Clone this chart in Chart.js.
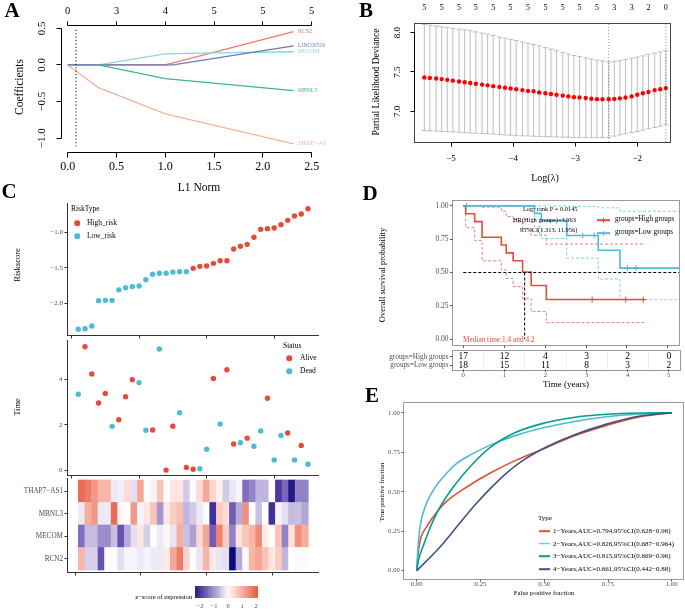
<!DOCTYPE html>
<html>
<head>
<meta charset="utf-8">
<script src="https://cdn.jsdelivr.net/npm/chart.js@4.4.1/dist/chart.umd.min.js"></script>
<style>
html, body { margin: 0; padding: 0; background: #fff; }
#fig { position: relative; width: 685px; height: 609px; overflow: hidden; font-family: 'Liberation Serif', 'Times New Roman', serif; color: #000; }
canvas { position: absolute; }
.t { position: absolute; white-space: nowrap; line-height: 1; }
.c { transform: translate(-50%, -50%); }
.l { transform: translateY(-50%); }
.r { transform: translate(-100%, -50%); }
.v { transform: translate(-50%, -50%) rotate(-90deg); }
.p { font-weight: bold; font-size: 21px; }
.dot { position: absolute; width: 5.5px; height: 5.5px; border-radius: 50%; transform: translate(-50%, -50%); }
.key { position: absolute; height: 1.6px; transform: translateY(-50%); }
</style>
</head>
<body>
<div id="fig">
  <canvas id="cA" width="326" height="178" style="left:0;top:0"></canvas>
  <canvas id="cB" width="345" height="172" style="left:340px;top:0"></canvas>
  <canvas id="cRisk" width="340" height="145" style="left:0;top:195px"></canvas>
  <canvas id="cTime" width="340" height="145" style="left:0;top:336px"></canvas>
  <canvas id="cHeat" width="340" height="104" style="left:0;top:476px"></canvas>
  <canvas id="cKM" width="345" height="155" style="left:340px;top:195px"></canvas>
  <canvas id="cTable" width="345" height="47" style="left:340px;top:348px"></canvas>
  <canvas id="cROC" width="345" height="200" style="left:340px;top:395px"></canvas>

  <div class="t c p" style="left:12px;top:10px">A</div>
  <div class="t c p" style="left:366px;top:10px">B</div>
  <div class="t c p" style="left:9px;top:191px">C</div>
  <div class="t c p" style="left:370px;top:193px">D</div>
  <div class="t c p" style="left:372px;top:395px">E</div>

  <div class="t v" style="left:20px;top:87px;font-size:11.5px">Coefficients</div>
  <div class="t c" style="left:199px;top:188px;font-size:11.5px">L1 Norm</div>
  <div class="t v" style="left:377px;top:82px;font-size:9.5px">Partial Likelihood Deviance</div>
  <div class="t c" style="left:545px;top:178px;font-size:10px">Log(λ)</div>

  <div class="t v" style="left:17px;top:265px;font-size:8.5px">Riskscore</div>
  <div class="t v" style="left:17px;top:407px;font-size:8.5px">Time</div>
  <div class="t l" style="left:71px;top:209px;font-size:7.5px">RiskType</div>
  <div class="dot" style="left:77px;top:223px;background:#e64b35"></div>
  <div class="t l" style="left:87px;top:223px;font-size:7.5px">High_risk</div>
  <div class="dot" style="left:77px;top:236px;background:#4dbbd5"></div>
  <div class="t l" style="left:87px;top:236px;font-size:7.5px">Low_risk</div>
  <div class="t l" style="left:283px;top:346px;font-size:7.5px">Status</div>
  <div class="dot" style="left:289px;top:358px;background:#e64b35"></div>
  <div class="t l" style="left:300px;top:358px;font-size:7.5px">Alive</div>
  <div class="dot" style="left:289px;top:371px;background:#4dbbd5"></div>
  <div class="t l" style="left:300px;top:371px;font-size:7.5px">Dead</div>

  <div id="zbar" style="position:absolute;left:195px;top:586px;width:63px;height:12px"></div>
  <div class="t r" style="left:192px;top:597px;font-size:6.5px">z−score of expression</div>
  <div id="zticks"></div>

  <div class="t v" style="left:382px;top:275px;font-size:8.5px">Overall survival probability</div>
  <div class="t l" style="left:523px;top:209px;font-size:6.4px">Log−rank P = 0.0145</div>
  <div class="t l" style="left:513px;top:220px;font-size:6.4px">HR(High groups)=3.963</div>
  <div class="t l" style="left:520px;top:229.5px;font-size:6.4px">95%CI(1.313, 11.956)</div>
  <div class="t l" style="left:463px;top:340px;font-size:7.3px;color:#e64b35">Median time:1.4 and 4.2</div>
  <div class="key" style="left:597px;top:220px;width:13px;background:#e64b35"></div>
  <div style="position:absolute;left:603px;top:217.5px;width:1px;height:5px;background:#e64b35"></div>
  <div class="t l" style="left:615px;top:220px;font-size:7.2px">groups=High groups</div>
  <div class="key" style="left:597px;top:233px;width:13px;background:#4dbbd5"></div>
  <div style="position:absolute;left:603px;top:230.5px;width:1px;height:5px;background:#4dbbd5"></div>
  <div class="t l" style="left:615px;top:233px;font-size:7.2px">groups=Low groups</div>
  <div class="t c" style="left:566px;top:384px;font-size:9px">Time (years)</div>

  <div class="t v" style="left:382px;top:492px;font-size:6.8px">True positive fraction</div>
  <div class="t c" style="left:544px;top:593px;font-size:6.8px">False positive fraction</div>
  <div class="t l" style="left:538px;top:518px;font-size:7px">Type</div>
  <div class="key" style="left:539px;top:531px;width:11px;background:#e64b35"></div>
  <div class="t l" style="left:553px;top:531px;font-size:7px">1−Years,AUC=0.794,95%CI(0.628−0.96)</div>
  <div class="key" style="left:539px;top:543.5px;width:11px;background:#4dbbd5"></div>
  <div class="t l" style="left:553px;top:543.5px;font-size:7px">2−Years,AUC=0.826,95%CI(0.687−0.964)</div>
  <div class="key" style="left:539px;top:556px;width:11px;background:#00a087"></div>
  <div class="t l" style="left:553px;top:556px;font-size:7px">3−Years,AUC=0.815,95%CI(0.669−0.96)</div>
  <div class="key" style="left:539px;top:569px;width:11px;background:#3c5488"></div>
  <div class="t l" style="left:553px;top:569px;font-size:7px">4−Years,AUC=0.661,95%CI(0.442−0.88)</div>
</div>

<script>
// ---------- A: lasso coefficient paths (L1 norm vs coefficient)
const aNormRCN2 = [0, 1.0, 2.315];
const aCoefRCN2 = [0, 0, 0.455];
const aNormLINC = [0, 1.08, 2.315];
const aCoefLINC = [0, 0, 0.259];
const aNormMECOM = [0, 0.315, 1.0, 1.5, 2.315];
const aCoefMECOM = [0, 0, 0.15, 0.165, 0.18];
const aNormMBNL3 = [0, 0.315, 1.0, 2.315];
const aCoefMBNL3 = [0, 0, -0.186, -0.35];
const aNormTHAP7 = [0, 0.315, 1.0, 2.315];
const aCoefTHAP7 = [0, -0.309, -0.668, -1.077];
const aTopTicks = [0, 0.5, 1, 1.5, 2, 2.5];
const aTopLabels = ['0', '3', '4', '5', '5', '5'];
const aLambdaNorm = 0.085;

// ---------- B: cross-validation deviance
const bLogLambda = [-5.43, -5.34, -5.24, -5.15, -5.06, -4.97, -4.87, -4.78, -4.69, -4.60,
  -4.50, -4.41, -4.32, -4.22, -4.13, -4.04, -3.95, -3.85, -3.76, -3.67,
  -3.58, -3.48, -3.39, -3.30, -3.20, -3.11, -3.02, -2.93, -2.83, -2.74,
  -2.65, -2.56, -2.46, -2.37, -2.28, -2.19, -2.09, -2.00, -1.91, -1.82,
  -1.72, -1.63, -1.54];
const bMean = [7.43, 7.425, 7.417, 7.41, 7.40, 7.39, 7.38, 7.37, 7.36, 7.35,
  7.34, 7.33, 7.32, 7.31, 7.30, 7.29, 7.28, 7.27, 7.26, 7.255,
  7.24, 7.23, 7.22, 7.21, 7.20, 7.19, 7.18, 7.175, 7.17, 7.16,
  7.155, 7.153, 7.153, 7.158, 7.165, 7.175, 7.19, 7.21, 7.23, 7.245,
  7.27, 7.28, 7.295];
const bUpper = [8.105, 8.095, 8.085, 8.075, 8.065, 8.055, 8.045, 8.035, 8.025, 8.01,
  7.995, 7.98, 7.965, 7.945, 7.93, 7.915, 7.90, 7.88, 7.865, 7.85,
  7.83, 7.81, 7.79, 7.77, 7.75, 7.73, 7.71, 7.695, 7.68, 7.665,
  7.65, 7.64, 7.63, 7.635, 7.645, 7.66, 7.675, 7.69, 7.705, 7.725,
  7.74, 7.755, 7.77];
const bLower = [6.755, 6.752, 6.749, 6.746, 6.742, 6.738, 6.734, 6.73, 6.726, 6.722,
  6.718, 6.714, 6.71, 6.705, 6.70, 6.697, 6.694, 6.69, 6.687, 6.684,
  6.681, 6.678, 6.676, 6.674, 6.672, 6.67, 6.668, 6.667, 6.666, 6.666,
  6.666, 6.667, 6.668, 6.685, 6.70, 6.715, 6.73, 6.745, 6.76, 6.78,
  6.795, 6.81, 6.83];
const bTopLabels = ['5', '5', '5', '5', '5', '5', '5', '5', '5', '5', '5', '3', '3', '2', '0'];
const bLambdaMin = -2.46;
const bLambda1se = -1.54;

// ---------- C: risk score, survival time and expression heatmap (patients sorted by risk)
const cRiskLow = [-2.366, -2.357, -2.32, -1.962, -1.958, -1.958, -1.81, -1.78, -1.765, -1.756,
  -1.667, -1.59, -1.577, -1.577, -1.56, -1.554, -1.554];
const cRiskHigh = [-1.507, -1.479, -1.474, -1.437, -1.40, -1.40, -1.235, -1.197, -1.169, -1.07,
  -0.958, -0.948, -0.939, -0.892, -0.831, -0.77, -0.742, -0.667];
const cTime = [3.35, 5.44, 4.24, 2.96, 3.38, 1.93, 2.22, 3.24, 3.99, 3.86,
  1.76, 1.77, 5.34, 0.0, 1.94, 2.53, 0.12, 0.04, 0.06, 0.92,
  4.04, 2.03, 4.43, 1.15, 1.21, 1.41, 1.05, 1.73, 3.17, 0.45,
  1.53, 1.64, 0.45, 1.09, 0.26];
const cStatus = ['Dead', 'Alive', 'Alive', 'Alive', 'Alive', 'Dead', 'Alive', 'Alive', 'Alive', 'Dead',
  'Dead', 'Alive', 'Dead', 'Alive', 'Alive', 'Dead', 'Alive', 'Alive', 'Dead', 'Dead',
  'Alive', 'Dead', 'Alive', 'Alive', 'Dead', 'Alive', 'Dead', 'Dead', 'Alive', 'Dead',
  'Dead', 'Alive', 'Dead', 'Alive', 'Dead'];
const heatGenes = ['THAP7−AS1', 'MBNL3', 'MECOM', 'RCN2'];
const zTHAP7 = [1.9, 1.7, 1.3, 0.9, 0.9, -0.2, -0.15, 0.4, -0.3, 1.1,
  0.05, -0.1, 0.7, 0.05, 0.3, 0.3, -0.5, -0.05, 0.4, 1.1,
  0.5, 0.15, -0.5, -0.25, -0.1, -1.4, -1.2, -0.7, -0.7, 0.0,
  -2.0, -1.5, -2.4, -1.2, -1.2];
const zMBNL3 = [-0.2, 1.0, 1.3, -0.2, -0.2, 1.9, 0.1, 0.0, 1.3, -0.1,
  0.3, 0.7, -1.0, 0.25, 0.6, 0.8, -0.7, -0.5, -0.2, -0.05,
  -2.1, 0.6, 0.4, -1.6, -0.8, 1.4, 0.0, -0.6, 0.05, -2.1,
  -0.1, -0.3, -0.65, -0.6, -0.85];
const zMECOM = [-1.4, -0.65, -0.65, -1.1, -1.1, -0.6, -1.7, -0.8, -0.3, 0.3,
  -0.45, 0.0, -0.2, 0.1, -0.25, 1.0, -0.6, -0.9, 0.45, 1.1,
  -1.6, 1.6, 0.6, -1.2, 0.35, 0.7, 0.9, 1.5, 0.2, 0.05,
  0.7, -1.2, 0.35, 1.4, 1.0];
const zRCN2 = [0.9, -0.45, -0.45, -1.7, 0.0, -0.03, -0.3, -0.1, -0.1, -0.2,
  -0.1, -0.2, -0.2, 0.25, 1.1, 1.7, 0.5, 0.0, -0.25, 0.9,
  0.25, -0.25, -0.3, -2.6, -0.8, 0.05, 0.9, 1.1, 0.7, 0.3,
  0.6, -0.7, 0.0, -0.05, -0.03];
const zStops = [[-2.6, '#0c0a78'], [-2, '#4b37a0'], [-1.5, '#7a64b9'], [-1, '#a596cf'], [-0.5, '#d2cae6'],
  [0, '#ffffff'], [0.5, '#fbd5cb'], [1, '#f6ae9e'], [1.5, '#ef8a79'], [2, '#e8654f'], [2.6, '#dd4030']];
const zBarTicks = [-2, -1, 0, 1, 2];
const zBarMin = -2.36, zBarMax = 2.14;

// ---------- D: Kaplan-Meier
const dHighTime = [0, 0.06, 0.28, 0.46, 0.93, 1.05, 1.22, 1.45, 1.66, 2.03, 4.42];
const dHighSurv = [1, 0.941, 0.882, 0.765, 0.706, 0.647, 0.588, 0.504, 0.403, 0.297, 0.297];
const dHighUpper = [1, 1, 1, 0.99, 0.96, 0.92, 0.88, 0.83, 0.78, 0.713, 0.713];
const dHighLower = [1, 0.836, 0.741, 0.588, 0.52, 0.455, 0.395, 0.306, 0.207, 0.124, 0.124];
const dHighCensorTime = [3.15, 3.97, 4.4];
const dHighCensorSurv = [0.297, 0.297, 0.297];
const dLowTime = [0, 1.74, 1.91, 2.53, 3.30, 3.83, 5.3];
const dLowSurv = [1, 0.944, 0.889, 0.778, 0.667, 0.533, 0.533];
const dLowUpper = [1, 1, 1, 0.996, 0.985, 0.96, 0.96];
const dLowLower = [1, 0.844, 0.755, 0.608, 0.451, 0.296, 0.296];
const dLowCensorTime = [0.08, 2.92, 3.2, 4.01, 4.22];
const dLowCensorSurv = [1, 0.778, 0.778, 0.533, 0.533];
const dMedianTime = 1.5;
const dTableTimes = [0, 1, 2, 3, 4, 5];
const dRiskHigh = [17, 12, 4, 3, 2, 0];
const dRiskLow = [18, 15, 11, 8, 3, 2];

// ---------- E: time-dependent ROC
const eFpr1 = [0, 0.005, 0.013, 0.04, 0.078, 0.118, 0.196, 0.29, 0.39, 0.51, 0.61, 0.745, 0.876, 1];
const eTpr1 = [0, 0.1, 0.19, 0.28, 0.37, 0.44, 0.53, 0.62, 0.70, 0.78, 0.85, 0.92, 0.975, 1];
const eFpr2 = [0, 0.003, 0.007, 0.013, 0.033, 0.065, 0.105, 0.157, 0.222, 0.288, 0.38, 0.484, 0.614, 0.745, 0.876, 1];
const eTpr2 = [0, 0.1, 0.19, 0.28, 0.405, 0.51, 0.595, 0.68, 0.743, 0.795, 0.852, 0.90, 0.943, 0.975, 0.992, 1];
const eFpr3 = [0, 0.007, 0.026, 0.052, 0.092, 0.144, 0.209, 0.288, 0.38, 0.484, 0.614, 0.745, 0.876, 1];
const eTpr3 = [0, 0.068, 0.16, 0.27, 0.405, 0.532, 0.658, 0.78, 0.87, 0.928, 0.97, 0.99, 0.998, 1];
const eFpr4 = [0, 0.092, 0.157, 0.222, 0.288, 0.353, 0.418, 0.51, 0.614, 0.745, 0.876, 1];
const eTpr4 = [0, 0.152, 0.278, 0.405, 0.52, 0.62, 0.70, 0.785, 0.858, 0.928, 0.979, 1];

const SERIF = "'Liberation Serif', 'Times New Roman', serif";
const font = px => `${px}px ${SERIF}`;

Chart.defaults.animation = false;
Chart.defaults.responsive = false;
Chart.defaults.devicePixelRatio = 1;
Chart.defaults.events = [];
Chart.defaults.font.family = SERIF;
Chart.defaults.plugins.legend.display = false;
Chart.defaults.plugins.tooltip.enabled = false;

const crisp = v => Math.round(v - 0.5) + 0.5;

// R / ggplot style axes drawn from the chart's own scales
const rAxes = {
  id: 'rAxes',
  beforeDatasetsDraw(chart, args, opts) {
    const { ctx, chartArea: a } = chart;
    (opts.axes || []).filter(ax => ax.grid).forEach(ax => {
      const s = chart.scales[ax.scale];
      ctx.save();
      ctx.strokeStyle = ax.gridColor || '#eee';
      ctx.lineWidth = 1;
      ctx.beginPath();
      ax.grid.forEach(v => {
        const p = crisp(s.getPixelForValue(v));
        if (ax.scale === 'x') { ctx.moveTo(p, a.top); ctx.lineTo(p, a.bottom); }
        else { ctx.moveTo(a.left, p); ctx.lineTo(a.right, p); }
      });
      ctx.stroke();
      ctx.restore();
    });
  },
  afterDraw(chart, args, opts) {
    const { ctx, chartArea: a } = chart;
    ctx.save();
    if (opts.box) {
      ctx.strokeStyle = opts.box;
      ctx.lineWidth = 1;
      ctx.strokeRect(crisp(a.left), crisp(a.top), Math.round(a.right - a.left), Math.round(a.bottom - a.top));
    }
    (opts.axes || []).forEach(ax => {
      const s = chart.scales[ax.scale];
      const pos = ax.ticks.map(v => s.getPixelForValue(v));
      const horiz = ax.side === 'bottom' || ax.side === 'top';
      const base = crisp({ bottom: a.bottom, top: a.top, left: a.left, right: a.right }[ax.side]);
      const dir = (ax.side === 'bottom' || ax.side === 'right') ? 1 : -1;
      const len = ax.tickLen || 0;
      ctx.strokeStyle = ax.color || '#000';
      ctx.lineWidth = 1;
      ctx.beginPath();
      if (ax.line) {
        const from = ax.line === 'full' ? (horiz ? a.left : a.top) : Math.min(...pos);
        const to = ax.line === 'full' ? (horiz ? a.right : a.bottom) : Math.max(...pos);
        if (horiz) { ctx.moveTo(from, base); ctx.lineTo(to, base); }
        else { ctx.moveTo(base, from); ctx.lineTo(base, to); }
      }
      if (len) pos.forEach(p => {
        const q = crisp(p);
        if (horiz) { ctx.moveTo(q, base); ctx.lineTo(q, base + dir * len); }
        else { ctx.moveTo(base, q); ctx.lineTo(base + dir * len, q); }
      });
      ctx.stroke();
      if (!ax.labels) return;
      ctx.fillStyle = ax.textColor || '#000';
      ctx.font = ax.font;
      ctx.textBaseline = 'middle';
      pos.forEach((p, i) => {
        const off = base + dir * ax.labelOffset;
        if (horiz) {
          ctx.textAlign = 'center';
          ctx.fillText(ax.labels[i], p, off);
        } else if (ax.rotate) {
          ctx.save();
          ctx.translate(off, p);
          ctx.rotate(-Math.PI / 2);
          ctx.textAlign = 'center';
          ctx.fillText(ax.labels[i], 0, 0);
          ctx.restore();
        } else {
          ctx.textAlign = dir < 0 ? 'right' : 'left';
          ctx.fillText(ax.labels[i], off, p);
        }
      });
    });
    ctx.restore();
  }
};

// text placed at data coordinates
const dataText = {
  id: 'dataText',
  afterDraw(chart, args, opts) {
    const { ctx, scales: { x, y } } = chart;
    (opts.items || []).forEach(it => {
      ctx.save();
      ctx.font = it.font;
      ctx.fillStyle = it.color || '#000';
      ctx.textAlign = it.align || 'center';
      ctx.textBaseline = 'middle';
      ctx.fillText(it.text, x.getPixelForValue(it.x) + (it.dx || 0), y.getPixelForValue(it.y));
      ctx.restore();
    });
  }
};

Chart.register(rAxes, dataText);

const pts = (xs, ys) => xs.map((x, i) => ({ x, y: ys[i] }));

// ---------- A
const aPaths = [
  { name: 'RCN2', xs: aNormRCN2, ys: aCoefRCN2, color: '#f27a6b', order: 3 },
  { name: 'LINC00519', xs: aNormLINC, ys: aCoefLINC, color: '#6b7bb0', order: 1 },
  { name: 'MECOM', xs: aNormMECOM, ys: aCoefMECOM, color: '#8ad3e3', order: 2 },
  { name: 'MBNL3', xs: aNormMBNL3, ys: aCoefMBNL3, color: '#3bb394', order: 4 },
  { name: 'THAP7−AS1', xs: aNormTHAP7, ys: aCoefTHAP7, color: '#f7b39c', order: 5 }
];
new Chart(document.getElementById('cA'), {
  type: 'scatter',
  data: {
    datasets: aPaths.map(p => ({
      data: pts(p.xs, p.ys), showLine: true, pointRadius: 0,
      borderColor: p.color, borderWidth: 1.3, order: p.order
    })).concat([{
      data: [{ x: aLambdaNorm, y: 0.48 }, { x: aLambdaNorm, y: -1.11 }],
      showLine: true, pointRadius: 0, borderColor: '#000', borderWidth: 1, borderDash: [1.2, 2.2], order: 0
    }])
  },
  options: {
    layout: { padding: { left: 61, right: 8, top: 25, bottom: 26 } },
    scales: {
      x: { type: 'linear', min: -0.069, max: 2.565, display: false },
      y: { type: 'linear', min: -1.187, max: 0.545, display: false }
    },
    plugins: {
      rAxes: { axes: [
        { scale: 'y', side: 'left', ticks: [-1, -0.5, 0, 0.5], labels: ['−1.0', '−0.5', '0.0', '0.5'], rotate: true, line: 'ticks', tickLen: 5, labelOffset: 19, font: font(11) },
        { scale: 'x', side: 'bottom', ticks: [0, 0.5, 1, 1.5, 2, 2.5], labels: ['0.0', '0.5', '1.0', '1.5', '2.0', '2.5'], line: 'ticks', tickLen: 5, labelOffset: 14, font: font(12) },
        { scale: 'x', side: 'top', ticks: aTopTicks, labels: aTopLabels, line: 'ticks', tickLen: 4, labelOffset: 14, font: font(10.5) }
      ] },
      dataText: { items: aPaths.map(p => ({
        x: p.xs[p.xs.length - 1], y: p.ys[p.ys.length - 1], dx: 4.5, text: p.name,
        color: p.color, font: font(5.6), align: 'left'
      })) }
    }
  }
});

// ---------- B
const bYMin = 6.61, bYMax = 8.123;
new Chart(document.getElementById('cB'), {
  type: 'scatter',
  data: {
    datasets: [{
      data: pts(bLogLambda, bMean), pointRadius: 2.2, pointBackgroundColor: '#ff0000', pointBorderWidth: 0, order: 0
    }].concat(bLogLambda.map((x, i) => ({
      data: [{ x, y: bLower[i] }, { x, y: bUpper[i] }], showLine: true,
      borderColor: '#bdbdbd', borderWidth: 1, pointStyle: 'line', pointRadius: 2.6,
      pointBorderColor: '#bdbdbd', pointBorderWidth: 1, order: 2
    }))).concat([bLambdaMin, bLambda1se].map(x => ({
      data: [{ x, y: bYMin }, { x, y: bYMax }], showLine: true, pointRadius: 0,
      borderColor: '#777', borderWidth: 0.8, borderDash: [1, 2], order: 1
    })))
  },
  options: {
    layout: { padding: { left: 74, right: 15, top: 23, bottom: 30 } },
    scales: {
      x: { type: 'linear', min: -5.596, max: -1.473, display: false },
      y: { type: 'linear', min: bYMin, max: bYMax, display: false }
    },
    plugins: {
      rAxes: { box: '#444', axes: [
        { scale: 'y', side: 'left', ticks: [7, 7.5, 8], labels: ['7.0', '7.5', '8.0'], rotate: true, line: 'ticks', tickLen: 4, labelOffset: 17, font: font(9) },
        { scale: 'x', side: 'bottom', ticks: [-5, -4, -3, -2], labels: ['−5', '−4', '−3', '−2'], line: 'ticks', tickLen: 4, labelOffset: 16, font: font(9) },
        { scale: 'x', side: 'top', ticks: bLogLambda.filter((_, i) => i % 3 === 0), labels: bTopLabels, tickLen: 0, labelOffset: 16, font: font(8) }
      ] }
    }
  }
});

// ---------- C: risk score
const cX = { type: 'linear', min: -0.67, max: 36.63, display: false };
new Chart(document.getElementById('cRisk'), {
  type: 'scatter',
  data: {
    datasets: [
      { data: cRiskLow.map((y, i) => ({ x: i + 1, y })), pointRadius: 2.7, pointBackgroundColor: '#4dbbd5', pointBorderWidth: 0 },
      { data: cRiskHigh.map((y, i) => ({ x: cRiskLow.length + i + 1, y })), pointRadius: 2.7, pointBackgroundColor: '#e64b35', pointBorderWidth: 0 }
    ]
  },
  options: {
    layout: { padding: { left: 67, right: 21, top: 8, bottom: 5 } },
    scales: { x: cX, y: { type: 'linear', min: -2.446, max: -0.587, display: false } },
    plugins: {
      rAxes: { axes: [
        { scale: 'y', side: 'left', ticks: [-2, -1.5, -1], labels: ['−2.0', '−1.5', '−1.0'], line: 'full', tickLen: 3, labelOffset: 4.5, font: font(7), color: '#333', textColor: '#4d4d4d' },
        { scale: 'x', side: 'bottom', ticks: [0, 10, 20, 30], line: 'full', tickLen: 3, color: '#333' }
      ] }
    }
  }
});

// ---------- C: survival time
new Chart(document.getElementById('cTime'), {
  type: 'scatter',
  data: {
    datasets: ['Alive', 'Dead'].map(st => ({
      data: cTime.map((y, i) => ({ x: i + 1, y, s: cStatus[i] })).filter(d => d.s === st),
      pointRadius: 2.7, pointBorderWidth: 0,
      pointBackgroundColor: st === 'Alive' ? '#e64b35' : '#4dbbd5'
    }))
  },
  options: {
    layout: { padding: { left: 67, right: 21, top: 1, bottom: 6 } },
    scales: { x: cX, y: { type: 'linear', min: -0.216, max: 5.74, display: false } },
    plugins: {
      rAxes: { axes: [
        { scale: 'y', side: 'left', ticks: [0, 2, 4], labels: ['0', '2', '4'], line: 'full', tickLen: 3, labelOffset: 5, font: font(7), color: '#333', textColor: '#4d4d4d' },
        { scale: 'x', side: 'bottom', ticks: [0, 10, 20, 30], line: 'full', tickLen: 3, color: '#333' }
      ] }
    }
  }
});

// ---------- C: heatmap
const hexRgb = h => [1, 3, 5].map(k => parseInt(h.slice(k, k + 2), 16));
function zColor(z) {
  if (z <= zStops[0][0]) return zStops[0][1];
  for (let i = 1; i < zStops.length; i++) {
    if (z <= zStops[i][0]) {
      const t = (z - zStops[i - 1][0]) / (zStops[i][0] - zStops[i - 1][0]);
      const a = hexRgb(zStops[i - 1][1]), b = hexRgb(zStops[i][1]);
      return `rgb(${a.map((v, k) => Math.round(v + (b[k] - v) * t)).join(',')})`;
    }
  }
  return zStops[zStops.length - 1][1];
}
const heatRowsBottomUp = [zRCN2, zMECOM, zMBNL3, zTHAP7];
new Chart(document.getElementById('cHeat'), {
  type: 'bar',
  data: {
    datasets: heatRowsBottomUp.map(row => ({
      data: row.map((z, i) => ({ x: i + 1, y: 1 })),
      backgroundColor: row.map(zColor), borderWidth: 0,
      barPercentage: 1, categoryPercentage: 1
    }))
  },
  options: {
    layout: { padding: { left: 67, right: 21, top: 2, bottom: 8 } },
    scales: {
      x: { type: 'linear', stacked: true, offset: false, min: -1.22, max: 37.13, display: false,
           afterBuildTicks: s => { s.ticks = [0, 10, 20, 30].map(value => ({ value })); } },
      y: { type: 'linear', stacked: true, min: -0.089, max: 4.089, display: false }
    },
    plugins: {
      rAxes: { axes: [
        { scale: 'y', side: 'left', ticks: [3.5, 2.5, 1.5, 0.5], labels: heatGenes, line: 'full', tickLen: 3, labelOffset: 4.5, font: font(7.2), color: '#333', textColor: '#4d4d4d' },
        { scale: 'x', side: 'bottom', ticks: [0, 10, 20, 30], line: 'full', tickLen: 3, color: '#333' }
      ] }
    }
  }
});

// colour bar legend
const zbar = document.getElementById('zbar');
const zSteps = [];
for (let v = zBarMin; v <= zBarMax + 1e-9; v += 0.25) {
  zSteps.push(`${zColor(v)} ${((v - zBarMin) / (zBarMax - zBarMin) * 100).toFixed(1)}%`);
}
zbar.style.background = `linear-gradient(to right, ${zSteps.join(', ')})`;
const zticks = document.getElementById('zticks');
zBarTicks.forEach(v => {
  const d = document.createElement('div');
  d.className = 't c';
  d.style.left = (195 + (v - zBarMin) / (zBarMax - zBarMin) * 63) + 'px';
  d.style.top = '606px';
  d.style.fontSize = '6.5px';
  d.style.color = '#4d4d4d';
  d.textContent = v < 0 ? '−' + Math.abs(v) : String(v);
  zticks.appendChild(d);
});

// ---------- D: Kaplan-Meier
const kmLine = (xs, ys, color, width, dash, order) => ({
  data: pts(xs, ys), showLine: true, stepped: 'before', pointRadius: 0,
  borderColor: color, borderWidth: width, borderDash: dash, order
});
new Chart(document.getElementById('cKM'), {
  type: 'scatter',
  data: {
    datasets: [
      { data: [{ x: 0, y: 0.5 }, { x: 5.3, y: 0.5 }], showLine: true, pointRadius: 0, borderColor: '#000', borderWidth: 1, borderDash: [3, 2], order: 0 },
      { data: [{ x: dMedianTime, y: 0.5 }, { x: dMedianTime, y: 0 }], showLine: true, pointRadius: 0, borderColor: '#000', borderWidth: 1, borderDash: [3, 2], order: 0 },
      kmLine(dHighTime, dHighSurv, '#e64b35', 1.6, [], 2),
      kmLine(dHighTime, dHighUpper, '#ef8070', 1, [3, 2], 4),
      kmLine(dHighTime, dHighLower, '#ef8070', 1, [3, 2], 4),
      kmLine(dLowTime, dLowSurv, '#4dbbd5', 1.6, [], 3),
      kmLine(dLowTime, dLowUpper, '#7fd2e6', 1, [3, 2], 5),
      kmLine(dLowTime, dLowLower, '#7fd2e6', 1, [3, 2], 5),
      { data: pts(dHighCensorTime, dHighCensorSurv), pointStyle: 'cross', pointRadius: 3, pointBorderColor: '#e64b35', pointBorderWidth: 1, order: 1 },
      { data: pts(dLowCensorTime, dLowCensorSurv), pointStyle: 'cross', pointRadius: 3, pointBorderColor: '#4dbbd5', pointBorderWidth: 1, order: 1 }
    ]
  },
  options: {
    layout: { padding: { left: 112.7, right: 4, top: 5, bottom: 1.7 } },
    scales: {
      x: { type: 'linear', min: -0.258, max: 5.297, display: false },
      y: { type: 'linear', min: -0.044, max: 1.044, display: false }
    },
    plugins: {
      rAxes: { box: '#9a9a9a', axes: [
        { scale: 'y', side: 'left', ticks: [0, 0.25, 0.5, 0.75, 1], labels: ['0.00', '0.25', '0.50', '0.75', '1.00'], tickLen: 2.5, labelOffset: 4, font: font(7.5), color: '#555', textColor: '#4d4d4d' },
        { scale: 'x', side: 'bottom', ticks: dTableTimes, tickLen: 2.5, color: '#555' }
      ] }
    }
  }
});

// ---------- D: number at risk table
const tableItems = [];
dTableTimes.forEach((t, i) => {
  tableItems.push({ x: t, y: 1.5, text: String(dRiskHigh[i]), font: font(9.5) });
  tableItems.push({ x: t, y: 0.5, text: String(dRiskLow[i]), font: font(9.5) });
});
new Chart(document.getElementById('cTable'), {
  type: 'scatter',
  data: { datasets: [] },
  options: {
    layout: { padding: { left: 112.7, right: 4, top: 2, bottom: 25.5 } },
    scales: {
      x: { type: 'linear', min: -0.258, max: 5.297, display: false },
      y: { type: 'linear', min: -0.043, max: 2.31, display: false }
    },
    plugins: {
      rAxes: { box: '#9a9a9a', axes: [
        { scale: 'y', side: 'left', ticks: [1.5, 0.5], labels: ['groups=High groups', 'groups=Low groups'], tickLen: 2.5, labelOffset: 4, font: font(7.2), color: '#555', textColor: '#4d4d4d' },
        { scale: 'x', side: 'bottom', ticks: dTableTimes, labels: dTableTimes.map(String), tickLen: 2.5, labelOffset: 6, font: font(6.8), color: '#555', textColor: '#4d4d4d',
          grid: [0.5, 1.5, 2.5, 3.5, 4.5], gridColor: '#ededed' }
      ] },
      dataText: { items: tableItems }
    }
  }
});

// ---------- E: ROC
const rocLine = (xs, ys, color, order) => ({
  data: pts(xs, ys), showLine: true, pointRadius: 0, borderColor: color, borderWidth: 1.6,
  cubicInterpolationMode: 'monotone', order
});
new Chart(document.getElementById('cROC'), {
  type: 'scatter',
  data: {
    datasets: [
      rocLine(eFpr1, eTpr1, '#e64b35', 4),
      rocLine(eFpr2, eTpr2, '#4dbbd5', 3),
      rocLine(eFpr3, eTpr3, '#00a087', 2),
      rocLine(eFpr4, eTpr4, '#3c5488', 1)
    ]
  },
  options: {
    layout: { padding: { left: 63, right: 2, top: 7, bottom: 16 } },
    scales: {
      x: { type: 'linear', min: -0.054, max: 1.044, display: false },
      y: { type: 'linear', min: -0.0525, max: 1.068, display: false }
    },
    plugins: {
      rAxes: { box: '#9a9a9a', axes: [
        { scale: 'y', side: 'left', ticks: [0, 0.25, 0.5, 0.75, 1], labels: ['0.00', '0.25', '0.50', '0.75', '1.00'], tickLen: 2, labelOffset: 3.5, font: font(6.8), color: '#555', textColor: '#4d4d4d' },
        { scale: 'x', side: 'bottom', ticks: [0, 0.25, 0.5, 0.75, 1], labels: ['0.00', '0.25', '0.50', '0.75', '1.00'], tickLen: 2, labelOffset: 5, font: font(6.8), color: '#555', textColor: '#4d4d4d' }
      ] }
    }
  }
});
</script>
</body>
</html>
